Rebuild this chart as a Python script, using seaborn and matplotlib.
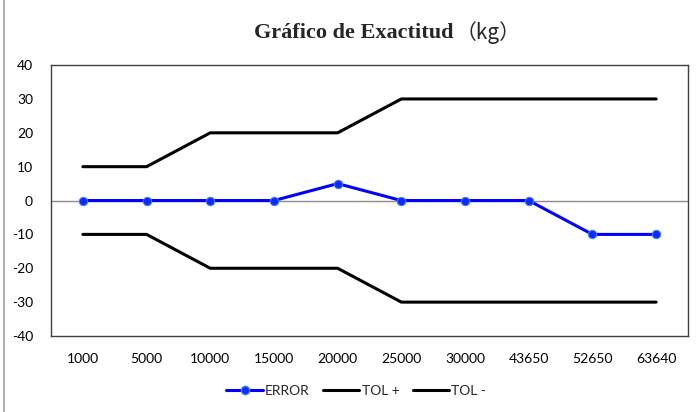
import numpy as np
import pandas as pd
import matplotlib.pyplot as plt
import seaborn as sns
from matplotlib.lines import Line2D

# data
cargas = ['1000', '5000', '10000', '15000', '20000', '25000', '30000', '43650', '52650', '63640']
error = [0, 0, 0, 0, 5, 0, 0, 0, -10, -10]
tol_mas = [10, 10, 20, 20, 20, 30, 30, 30, 30, 30]
tol_menos = [-10, -10, -20, -20, -20, -30, -30, -30, -30, -30]

df = pd.DataFrame({'carga': cargas, 'ERROR': error, 'TOL +': tol_mas, 'TOL -': tol_menos})

sns.set_style('white')
plt.rcParams['font.family'] = ['Lato', 'DejaVu Sans']
plt.rcParams['axes.unicode_minus'] = False

fig = plt.figure(figsize=(6.96, 4.12), dpi=100)
ax = fig.add_axes([0.0733, 0.1845, 0.9152, 0.6575])

ax.axhline(0, color='#8c8c8c', lw=1.0, zorder=1)

sns.lineplot(data=df, x='carga', y='TOL +', ax=ax, sort=False, color='black', lw=2.2, zorder=2)
sns.lineplot(data=df, x='carga', y='TOL -', ax=ax, sort=False, color='black', lw=2.2, zorder=2)
sns.lineplot(data=df, x='carga', y='ERROR', ax=ax, sort=False, color='#0000ff', lw=2.2,
             marker='o', markersize=6, markerfacecolor='#0a2cff', markeredgecolor='#4a7fe0',
             markeredgewidth=0.8, zorder=3)

ax.set_xlim(-0.5, len(cargas) - 0.5)
ax.set_ylim(-40, 40)
ax.set_yticks(np.arange(-40, 41, 10))
ax.set_xlabel('')
ax.set_ylabel('')
ax.tick_params(axis='both', length=0, labelsize=10, colors='black')
ax.tick_params(axis='y', pad=13)
ax.tick_params(axis='x', pad=12)
for s in ax.spines.values():
    s.set_color('#404040')
    s.set_linewidth(1.0)

fig.text(0.652, 0.92, 'Gráfico de Exactitud', ha='right', va='center',
         fontsize=16, fontweight='bold', family=['Liberation Serif'])
fig.text(0.655, 0.92, '（kg）', ha='left', va='center', fontsize=15,
         family=['Noto Sans CJK SC', 'DejaVu Sans'])

handles = [
    Line2D([], [], color='#0000ff', lw=2.2, marker='o', markersize=6,
           markerfacecolor='#0a2cff', markeredgecolor='#4a7fe0'),
    Line2D([], [], color='black', lw=2.2),
    Line2D([], [], color='black', lw=2.2),
]
fig.legend(handles, ['ERROR', 'TOL +', 'TOL -'], loc='center', bbox_to_anchor=(0.512, 0.052),
           ncol=3, frameon=False, fontsize=10, handlelength=2.6, handletextpad=0.15,
           columnspacing=1.0)

# left frame edge of the chart box
fig.add_artist(Line2D([0.006, 0.006], [0, 1], color='#a0a0a0', lw=1.2, transform=fig.transFigure))

fig.savefig('out.png', dpi=100)
